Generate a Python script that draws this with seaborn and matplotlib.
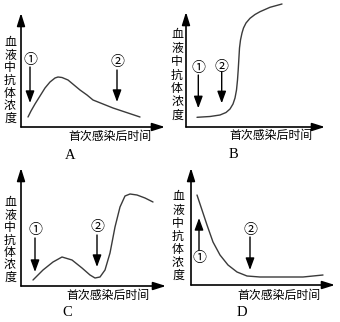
import matplotlib
matplotlib.use("Agg")
import matplotlib.pyplot as plt
import seaborn as sns

sns.set_theme(style="white")
plt.rcParams['font.family'] = ['Noto Sans CJK SC', 'DejaVu Sans']

FW, FH = 340, 322

# ---- data (time offset, antibody concentration), arbitrary units ----
a_time = [7, 10, 14, 19, 24, 29, 34, 37, 41, 47, 53, 59, 66, 72, 82, 92, 104, 119]
a_conc = [10, 16, 23, 31, 39, 45, 49, 50, 49.5, 47, 42, 37, 32, 27, 23, 19, 15, 10]

b_time = [11, 24, 34, 40, 44, 47, 49, 50.5, 51.5, 52.2, 52.8, 53.5, 54.5, 56, 57.5,
          60, 64, 69, 74, 84, 96]
b_conc = [9.7, 10.5, 12, 14.5, 18, 23, 29, 37, 47, 57, 67, 79, 87, 94, 99,
          104, 108.7, 112.5, 115.3, 119.7, 123]

c_time = [12, 22, 32, 41, 51, 61, 69, 74, 79, 84, 89, 94, 99, 104, 109, 116, 124, 132]
c_conc = [6, 16, 24, 29, 26, 18, 11, 8, 9, 16, 33, 59, 79, 90, 92, 91, 88, 84]

d_time = [6, 11, 16, 22, 29, 37, 46, 56, 69, 89, 112, 132]
d_conc = [90, 75, 60, 43, 30, 20, 13, 9, 8, 8, 8, 10]

letters = ["A", "B", "C", "D"]
x_label = "首次感染后时间"
y_label = "血液中抗体浓度"
mark1, mark2 = "①", "②"

# arrows: (x, label_y, tail_y, head_y)
a_arrows = [(9, 67, 60, 24), (96, 65, 57, 25)]
b_arrows = [(12.3, 58.7, 52, 18.7), (35.7, 60.3, 55.3, 23.7)]
c_arrows = [(14, 56, 48, 14), (76, 59, 51, 19)]
d_arrows = [(8, 27, 35, 67), (59, 55, 48, 15)]

# ---- layout (pixels) ----
panels = [
    dict(x0=21, y0=127, W=144, H=114, t=a_time, c=a_conc, arr=a_arrows,
         ylx=10, yl=(43, 118), xl=(110, 136.5), let=(70, 155)),
    dict(x0=186, y0=127, W=139, H=115, t=b_time, c=b_conc, arr=b_arrows,
         ylx=177, yl=(35, 115), xl=(270.5, 135.5), let=(233, 154)),
    dict(x0=21, y0=286, W=145, H=118, t=c_time, c=c_conc, arr=c_arrows,
         ylx=10, yl=(203, 277), xl=(108, 295), let=(67, 312)),
    dict(x0=191, y0=285, W=144, H=117, t=d_time, c=d_conc, arr=d_arrows,
         ylx=178, yl=(197, 275), xl=(279, 295), let=(242, 312)),
]

fig = plt.figure(figsize=(FW / 100, FH / 100), dpi=100)
fig.patch.set_facecolor("white")

def fx(px):
    return px / FW

def fy(py):
    return 1 - py / FH

for i, p in enumerate(panels):
    ax = fig.add_axes([fx(p["x0"]), fy(p["y0"]), p["W"] / FW, p["H"] / FH])
    ax.set_facecolor("none")
    sns.lineplot(x=p["t"], y=p["c"], ax=ax, color="#3a3a3a", linewidth=1.0,
                 sort=False, estimator=None, clip_on=False)
    ax.set_xlim(0, p["W"])
    ax.set_ylim(0, p["H"])
    ax.set_xticks([])
    ax.set_yticks([])
    for s in ax.spines.values():
        s.set_visible(False)
    # axis arrows
    axprops = dict(arrowstyle="-|>,head_length=0.7,head_width=0.22", color="black",
                   lw=1.2, mutation_scale=11, shrinkA=0, shrinkB=0)
    ax.annotate("", xy=(0, 1), xytext=(0, 0), xycoords="axes fraction",
                arrowprops=axprops, annotation_clip=False)
    ax.annotate("", xy=(1, 0), xytext=(0, 0), xycoords="axes fraction",
                arrowprops=axprops, annotation_clip=False)
    # marker arrows
    for j, (x, ly, ty, hy) in enumerate(p["arr"]):
        ax.annotate("", xy=(x, hy), xytext=(x, ty),
                    arrowprops=dict(arrowstyle="-|>,head_length=0.6,head_width=0.22",
                                    color="black", lw=1.0, mutation_scale=12,
                                    shrinkA=0, shrinkB=0),
                    annotation_clip=False)
        ax.text(x, ly, mark1 if j == 0 else mark2, ha="center", va="center",
                fontsize=10, color="black", clip_on=False)
    # y label stacked characters
    y1, y2 = p["yl"]
    n = len(y_label)
    for k, ch in enumerate(y_label):
        yy = y1 + (y2 - y1) * k / (n - 1)
        fig.text(fx(p["ylx"]), fy(yy), ch, ha="center", va="center",
                 fontsize=8.6, color="black")
    fig.text(fx(p["xl"][0]), fy(p["xl"][1]), x_label, ha="center", va="center",
             fontsize=8.6, color="black")
    fig.text(fx(p["let"][0]), fy(p["let"][1]), letters[i], ha="center", va="center",
             fontsize=10.5, color="black", family="Liberation Serif")

fig.savefig("out.png", dpi=100, facecolor="white")
